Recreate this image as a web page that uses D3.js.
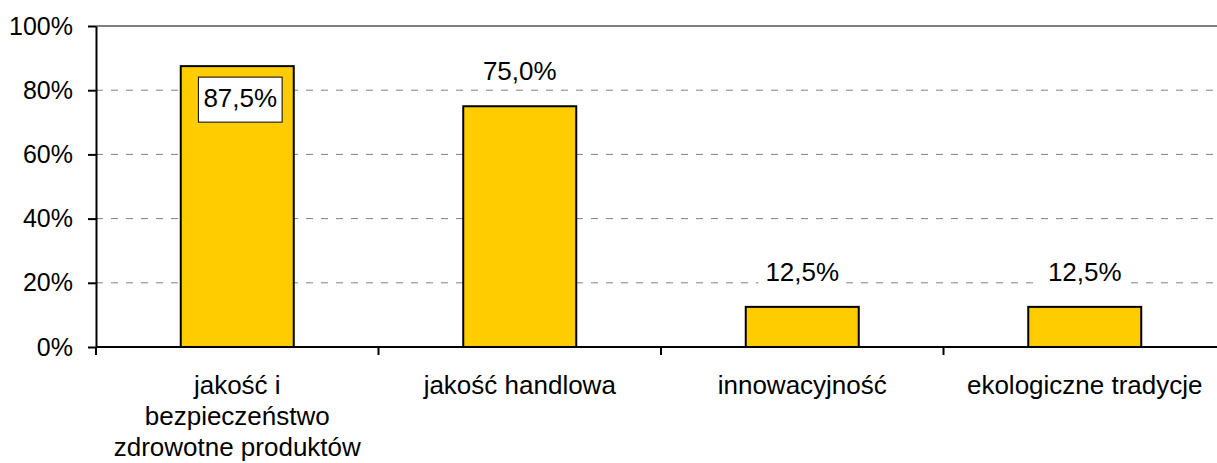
<!DOCTYPE html>
<html>
<head>
<meta charset="utf-8">
<script src="https://cdn.jsdelivr.net/npm/d3@7"></script>
<style>
  body { margin: 0; background: #fff; }
  text { font-family: "Liberation Sans", Arial, sans-serif; }
</style>
</head>
<body>
<svg id="chart" width="1217" height="463"></svg>
<script>
// chart data
const categories = ["jakość i\nbezpieczeństwo\nzdrowotne produktów", "jakość handlowa", "innowacyjność", "ekologiczne tradycje"];
const values = [0.875, 0.75, 0.125, 0.125];
const yTicks = [0, 0.2, 0.4, 0.6, 0.8, 1];

const svg = d3.select('#chart');
const width = +svg.attr('width');
const margin = { top: 26, left: 96, bottom: 116 };
const plotBottom = 347;
const plotRight = 1226; // plot runs slightly past the picture edge

const pl = d3.formatLocale({ decimal: ",", thousands: " ", grouping: [3], currency: ["", " zł"] });
const fmtTick = pl.format(".0%");
const fmtLabel = pl.format(".1%");

const x = d3.scaleBand()
  .domain(categories)
  .range([margin.left, plotRight])
  .paddingInner(0.6)
  .paddingOuter(0.3);

const y = d3.scaleLinear()
  .domain([0, 1])
  .range([plotBottom, margin.top]);

// gridlines
svg.append('g').selectAll('line')
  .data(yTicks.filter(d => d > 0))
  .join('line')
    .attr('x1', margin.left)
    .attr('x2', width)
    .attr('y1', d => y(d))
    .attr('y2', d => y(d))
    .attr('stroke', '#808080')
    .attr('stroke-width', d => d === 1 ? 2 : 1)
    .attr('stroke-dasharray', d => d === 1 ? null : '7,8');

// bars
svg.append('g').selectAll('rect')
  .data(categories)
  .join('rect')
    .attr('x', d => x(d))
    .attr('y', (d, i) => y(values[i]))
    .attr('width', x.bandwidth())
    .attr('height', (d, i) => y(0) - y(values[i]))
    .attr('fill', '#FFCC00')
    .attr('stroke', '#000')
    .attr('stroke-width', 2);

// y axis
const yAxis = svg.append('g')
  .attr('transform', `translate(${margin.left},0)`)
  .call(d3.axisLeft(y).tickValues(yTicks).tickFormat(fmtTick).tickSize(8).tickSizeOuter(0).tickPadding(15));
yAxis.selectAll('path, line').attr('stroke', '#000').attr('stroke-width', 2);
yAxis.selectAll('text').attr('font-size', 25).attr('font-family', '"Liberation Sans", Arial, sans-serif').attr('fill', '#000');

// x axis (ticks sit between the categories)
const bounds = categories.map(d => x(d) - x.step() * x.paddingInner() / 2);
const xAxis = svg.append('g');
xAxis.append('line')
  .attr('x1', margin.left).attr('x2', plotRight)
  .attr('y1', y(0)).attr('y2', y(0))
  .attr('stroke', '#000').attr('stroke-width', 2);
xAxis.selectAll('.tick')
  .data(bounds)
  .join('line')
    .attr('class', 'tick')
    .attr('x1', d => d).attr('x2', d => d)
    .attr('y1', y(0)).attr('y2', y(0) + 8)
    .attr('stroke', '#000').attr('stroke-width', 2);

// category labels
svg.append('g').selectAll('text')
  .data(categories)
  .join('text')
    .attr('text-anchor', 'middle')
    .attr('font-size', 26)
    .attr('fill', '#000')
    .attr('y', 394)
    .each(function (d) {
      const t = d3.select(this);
      const cx = x(d) + x.bandwidth() / 2;
      d.split('\n').forEach((line, k) => {
        t.append('tspan').attr('x', cx).attr('dy', k === 0 ? 0 : 31).text(line);
      });
    });

// data labels
const labels = svg.append('g').selectAll('g')
  .data(categories)
  .join('g');

labels.each(function (d, i) {
  const g = d3.select(this);
  const cx = x(d) + x.bandwidth() / 2 + (i === 0 ? 3 : 0);
  const inside = i === 0;
  const base = inside ? y(values[i]) + 41 : y(values[i]) - 26;
  const rect = g.append('rect');
  const txt = g.append('text')
    .attr('x', cx)
    .attr('y', base)
    .attr('text-anchor', 'middle')
    .attr('font-size', 26)
    .attr('fill', '#000')
    .text(fmtLabel(values[i]));
  const w = txt.node().getComputedTextLength();
  if (inside) {
    rect.attr('x', cx - w / 2 - 5).attr('y', base - 30).attr('width', w + 10).attr('height', 45)
      .attr('fill', '#fff').attr('stroke', '#000').attr('stroke-width', 1);
  } else {
    rect.attr('x', cx - w / 2 - 7).attr('y', base - 24).attr('width', w + 14).attr('height', 30)
      .attr('fill', '#fff');
  }
});
</script>
</body>
</html>
